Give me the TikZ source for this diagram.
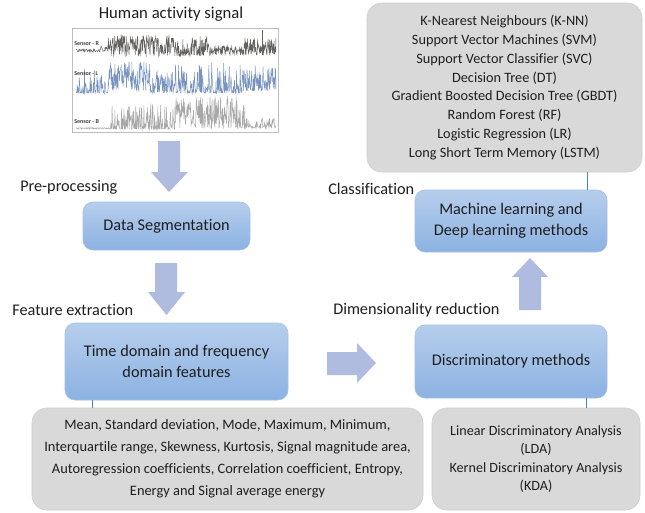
\documentclass[tikz,border=0pt]{standalone}
\usepackage{fontspec}
\setmainfont[Ligatures=NoCommon]{Carlito}
\definecolor{blueT}{RGB}{182,206,236}
\definecolor{blueB}{RGB}{140,178,226}
\definecolor{blueE}{RGB}{160,192,232}
\definecolor{grayF}{RGB}{217,217,217}
\definecolor{grayE}{RGB}{205,205,205}
\definecolor{arrowC}{RGB}{176,187,224}
\definecolor{connC}{RGB}{79,129,189}
\definecolor{txt}{RGB}{30,30,30}
\definecolor{sigR}{RGB}{100,96,96}
\definecolor{sigL}{RGB}{120,148,190}
\definecolor{sigB}{RGB}{168,168,168}
\definecolor{frameC}{RGB}{190,190,190}
\tikzset{
  bluebox/.style={rounded corners=7.5pt, top color=blueT, bottom color=blueB, draw=blueE, line width=0.4pt, align=center, inner sep=0pt, text=txt},
  graybox/.style={rounded corners=11pt, fill=grayF, draw=grayE, line width=0.4pt, align=center, inner sep=0pt, text=txt},
  blockarrow/.style={fill=arrowC},
  conn/.style={draw=connC, line width=0.7pt},
  lbl/.style={anchor=west, text=txt, inner sep=0pt, font=\fontsize{12.2}{14}\selectfont},
  sig/.style={line width=0.35pt},
  sensorlbl/.style={anchor=west, inner sep=0pt, font=\fontsize{4.5}{5}\selectfont\bfseries, text=black!75}
}
\begin{document}
\begin{tikzpicture}[x=0.75pt, y=-0.75pt]
\useasboundingbox (0,0) rectangle (645,512);

% title
\node[text=txt, font=\fontsize{12.5}{15}\selectfont] (title) at (171,14) {Human activity signal};

% signal image
\node[draw=frameC, line width=0.6pt, minimum width=154.5pt, minimum height=78pt, inner sep=0pt] (sigbox) at (175,80) {};
\pgfmathsetseed{7}
% sensor R
\draw[sig, sigR] plot[domain=100:108, samples=20] (\x, {52 - 6*rnd});
\draw[sig, sigR] plot[domain=76:100, samples=50] (\x, {52 - 3*rnd});
\draw[sig, sigR] plot[domain=108:175, samples=170] (\x, {57 - 22*rnd});
\draw[sig, sigR] plot[domain=175:210, samples=90] (\x, {56 - 20*pow(rnd,1.5)});
\draw[sig, sigR] plot[domain=210:243, samples=80] (\x, {55 - 9*rnd});
\draw[sig, sigR] plot[domain=243:276, samples=85] (\x, {55 - 18*pow(rnd,1.5)});
\draw[sig, sigR] (262,55) -- (262,30);
\node[sensorlbl] (sR) at (74,44) {Sensor - R};
% sensor L
\draw[sig, sigL] plot[domain=76:108, samples=80] (\x, {93 - 25*pow(rnd,5)});
\draw[sig, sigL] plot[domain=108:150, samples=110] (\x, {92 - 30*rnd});
\draw[sig, sigL] plot[domain=150:175, samples=65] (\x, {93 - 22*pow(rnd,2)});
\draw[sig, sigL] plot[domain=175:245, samples=175] (\x, {93 - 30*pow(rnd,3)});
\draw[sig, sigL] plot[domain=245:276, samples=80] (\x, {91 - 26*pow(rnd,2)});
\node[sensorlbl] (sL) at (74,74) {Sensor - L};
% sensor B
\draw[sig, sigB] plot[domain=76:110, samples=80] (\x, {129 - 1.5*rnd});
\draw[sig, sigB] plot[domain=110:175, samples=160] (\x, {129 - 26*pow(rnd,3)});
\draw[sig, sigB] plot[domain=175:245, samples=175] (\x, {129 - 33*pow(rnd,1.2)});
\draw[sig, sigB] plot[domain=245:276, samples=80] (\x, {128 - 10*pow(rnd,2)});
\node[sensorlbl] (sB) at (74,122) {Sensor - B};

% labels
\node[lbl] (pre) at (20,187) {Pre-processing};
\node[lbl] (fex) at (12,310) {Feature extraction};
\node[lbl] (dimr) at (333,310) {Dimensionality reduction};
\node[lbl] (cls) at (328,189) {Classification};

% blue boxes
\node[bluebox, minimum width=125.25pt, minimum height=36pt, font=\fontsize{12.2}{14}\selectfont] (seg) at (166.5,226) {Data Segmentation};
\node[bluebox, minimum width=167.25pt, minimum height=57.75pt, font=\fontsize{12.2}{16}\selectfont] (td) at (176.5,361.5) {Time domain and frequency\\domain features};
\node[bluebox, minimum width=144pt, minimum height=54.75pt, font=\fontsize{12.2}{14}\selectfont] (disc) at (511,361.5) {Discriminatory methods};
\node[bluebox, minimum width=144pt, minimum height=46.5pt, font=\fontsize{12.2}{16}\selectfont] (ml) at (511,221) {Machine learning and\\Deep learning methods};

% gray boxes
\node[graybox, minimum width=206.25pt, minimum height=126.75pt, font=\fontsize{10.7}{14.2}\selectfont] (clf) at (504.5,87.5) {K-Nearest Neighbours (K-NN)\\Support Vector Machines (SVM)\\Support Vector Classifier (SVC)\\Decision Tree (DT)\\Gradient Boosted Decision Tree (GBDT)\\Random Forest (RF)\\Logistic Regression (LR)\\Long Short Term Memory (LSTM)};
\node[graybox, minimum width=293.25pt, minimum height=76.5pt, font=\fontsize{10.8}{16.5}\selectfont] (feat) at (227.5,459) {Mean, Standard deviation, Mode, Maximum, Minimum,\\Interquartile range, Skewness, Kurtosis, Signal magnitude area,\\Autoregression coefficients, Correlation coefficient, Entropy,\\Energy and Signal average energy};
\node[graybox, minimum width=156pt, minimum height=76.5pt, font=\fontsize{10.6}{13.8}\selectfont] (lda) at (536,459) {Linear Discriminatory Analysis\\(LDA)\\Kernel Discriminatory Analysis\\(KDA)};

% connectors
\draw[conn] (td.south -| 92,0) -- (feat.north -| 92,0);
\draw[conn] (disc.south -| 586,0) -- (lda.north -| 586,0);
\draw[conn] (clf.south -| 587,0) -- (ml.north -| 587,0);

% block arrows
\fill[blockarrow] (158,141) -- (180,141) -- (180,172) -- (188,172) -- (169,192) -- (151,172) -- (158,172) -- cycle;
\fill[blockarrow] (155,263) -- (177,263) -- (177,292) -- (185,292) -- (166.5,315) -- (148,292) -- (155,292) -- cycle;
\fill[blockarrow] (327,352) -- (357,352) -- (357,343) -- (376,363) -- (357,383) -- (357,375) -- (327,375) -- cycle;
\fill[blockarrow] (519,310) -- (541,310) -- (541,277) -- (548,277) -- (530,258) -- (512,277) -- (519,277) -- cycle;
\end{tikzpicture}
\end{document}
